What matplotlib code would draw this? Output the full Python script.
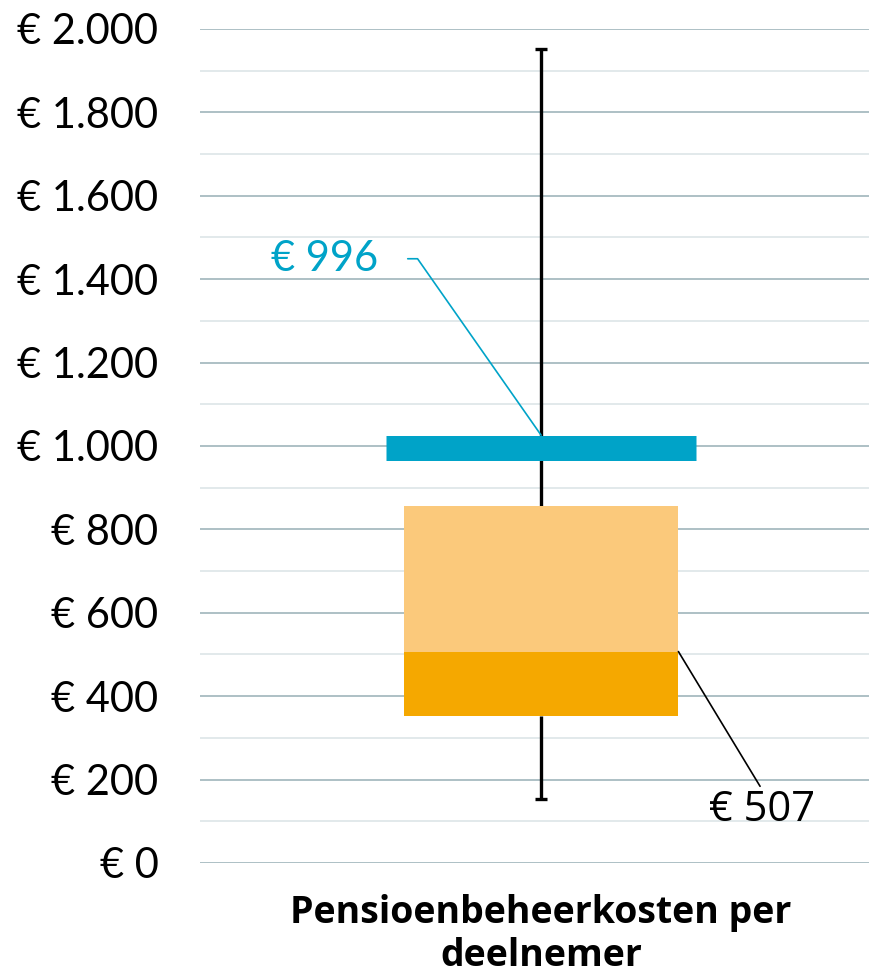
import numpy as np
from matplotlib import pyplot as plt
from matplotlib.ticker import MultipleLocator, FuncFormatter

# data
category = "Pensioenbeheerkosten per\ndeelnemer"
whisker_low = 153
q1 = 352
median = 507
q3 = 856
whisker_high = 1952
mean = 996

teal = "#00a3c8"
dark_orange = "#f5a800"
light_orange = "#fbc97b"

plt.rcParams['font.family'] = ['Lato', 'DejaVu Sans']

fig = plt.figure(figsize=(8.7, 9.76), dpi=100)
ax = fig.add_axes([0.23, 0.1158, 0.77, 0.8545])

x0 = 0.0
box_w = 0.41
mean_w = 0.463

# whiskers
ax.vlines(x0, whisker_low, q1, color="black", lw=2.4, zorder=2)
ax.vlines(x0, q3, whisker_high, color="black", lw=2.4, zorder=2)
ax.hlines([whisker_low, whisker_high], x0 - 0.009, x0 + 0.009, color="black", lw=2.4, zorder=2)

# box
ax.bar(x0, median - q1, bottom=q1, width=box_w, color=dark_orange, zorder=3)
ax.bar(x0, q3 - median, bottom=median, width=box_w, color=light_orange, zorder=3)

# mean marker
ax.hlines(mean, x0 - mean_w / 2, x0 + mean_w / 2, color=teal, lw=18, zorder=4)

# labels
ax.annotate("€ {}".format(mean), xy=(x0, mean + 30), xytext=(-117, 127),
            textcoords="offset points", color=teal, fontsize=30,
            ha="right", va="center",
            arrowprops=dict(arrowstyle="-", color=teal, lw=1.2,
                            connectionstyle="angle,angleA=0,angleB=-55,rad=0",
                            shrinkA=19, shrinkB=0))
ax.annotate("€ {}".format(median), xy=(x0 + box_w / 2, median), xytext=(60, -99),
            textcoords="offset points", color="black", fontsize=30,
            family=['Open Sans', 'DejaVu Sans'], ha="center", va="top",
            arrowprops=dict(arrowstyle="-", color="black", lw=1.2,
                            relpos=(0.5, 1.0), shrinkA=0, shrinkB=0))

ax.set_ylim(0, 2000)
ax.set_xlim(-0.509, 0.491)
ax.yaxis.set_major_locator(MultipleLocator(200))
ax.yaxis.set_minor_locator(MultipleLocator(100))
ax.yaxis.set_major_formatter(FuncFormatter(lambda v, p: "€ " + format(int(v), ",").replace(",", ".")))
ax.grid(axis="y", which="major", color="#9fb5bb", lw=1.2, zorder=0)
ax.grid(axis="y", which="minor", color="#dde5e8", lw=1.2, zorder=0)
ax.set_axisbelow(True)
ax.set_xticks([x0])
ax.set_xticklabels([category], fontsize=27, fontweight="bold",
                   family=['Open Sans', 'DejaVu Sans'], linespacing=1.2)
ax.tick_params(axis="y", which="both", length=0, labelsize=30, pad=30)
ax.tick_params(axis="x", length=0, pad=22)
for s in ax.spines.values():
    s.set_visible(False)

fig.savefig("out.png", dpi=100)
